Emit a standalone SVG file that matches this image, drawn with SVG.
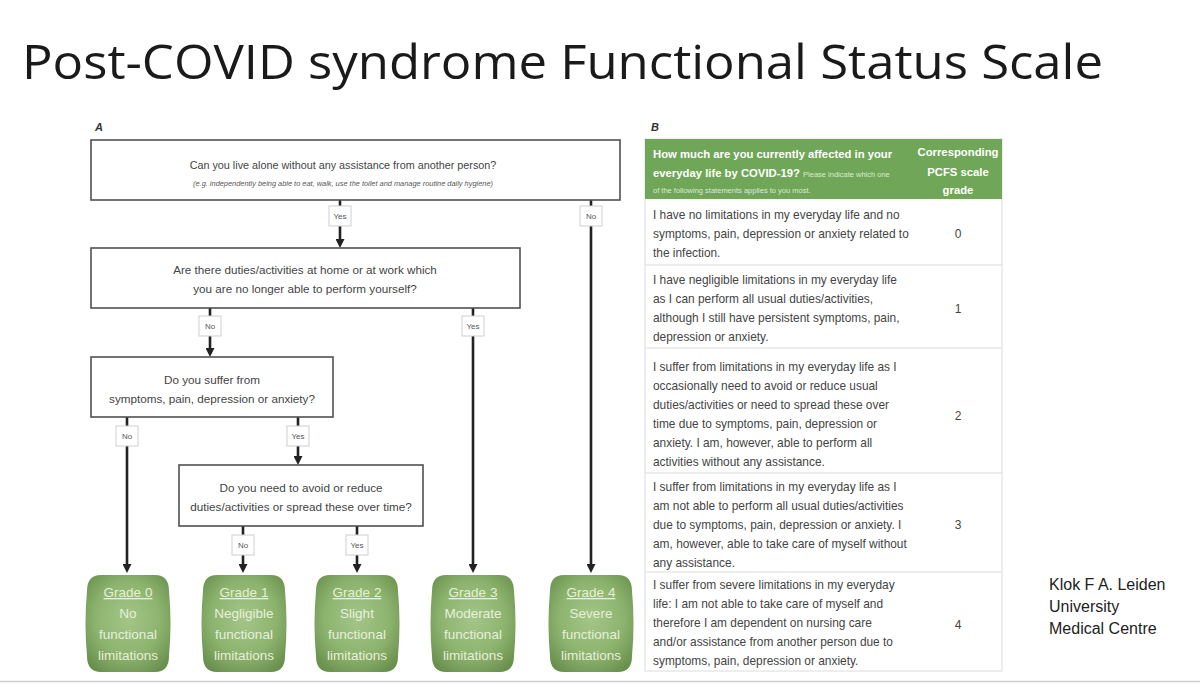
<svg xmlns="http://www.w3.org/2000/svg" width="1200" height="685" viewBox="0 0 1200 685">
<style>
text{font-family:"Liberation Sans",Arial,sans-serif}
.title{font-family:"Open Sans","Liberation Sans",sans-serif;font-size:48px;fill:#1a1a1a}
.box{fill:#fff;stroke:#505050;stroke-width:1.6}
.q{font-size:11.7px;fill:#444;text-anchor:middle}
.q1{font-size:10.8px}
.qi{font-size:7.4px;fill:#555;text-anchor:middle;font-style:italic}
.lab{fill:#fff;stroke:#cfcfcf;stroke-width:1}
.lt{font-size:8px;fill:#555;text-anchor:middle}
.con{stroke:#222;stroke-width:2.6;fill:none}
.g{fill:url(#gg)}
.gt{font-size:13.5px;fill:#e6efdb;text-anchor:middle}
.pl{font-size:11px;font-weight:bold;font-style:italic;fill:#333}
.hd{font-size:11.3px;font-weight:bold;fill:#fff}
.hs{font-size:7.5px;fill:#dcebcf;font-weight:normal}
.tt{font-size:11.9px;fill:#444}
.num{font-size:12px;fill:#444;text-anchor:middle}
.rl{stroke:#dcdcdc;stroke-width:1.2}
.auth{font-size:16px;fill:#222}
</style>
<defs>
<radialGradient id="gg" cx="0.5" cy="0.45" r="0.65">
<stop offset="0" stop-color="#a4c688"/>
<stop offset="0.6" stop-color="#8cb36e"/>
<stop offset="1" stop-color="#698f4c"/>
</radialGradient>
<marker id="ah" viewBox="0 0 10 10" refX="0" refY="5" markerWidth="9" markerHeight="9" markerUnits="userSpaceOnUse" orient="auto">
<path d="M0,0 L10,5 L0,10 Z" fill="#222"/>
</marker>
<path id="gshape" d="M-27,575 L27,575 Q41,575 41,591 Q44,623.5 41,656 Q41,672 27,672 L-27,672 Q-41,672 -41,656 Q-44,623.5 -41,591 Q-41,575 -27,575 Z"/>
</defs>
<rect width="1200" height="685" fill="#fff"/>
<text class="title" x="22" y="79" textLength="1081" lengthAdjust="spacingAndGlyphs">Post-COVID syndrome Functional Status Scale</text>
<line x1="0" y1="681.5" x2="1200" y2="681.5" stroke="#cfcfcf" stroke-width="1.5"/>

<text class="pl" x="95" y="131">A</text>
<text class="pl" x="651" y="131">B</text>

<g id="connectors">
<line class="con" x1="340" y1="200" x2="340" y2="239" marker-end="url(#ah)"/>
<line class="con" x1="591" y1="200" x2="591" y2="564" marker-end="url(#ah)"/>
<line class="con" x1="210" y1="308" x2="210" y2="348" marker-end="url(#ah)"/>
<line class="con" x1="473" y1="308" x2="473" y2="564" marker-end="url(#ah)"/>
<line class="con" x1="127" y1="417" x2="127" y2="564" marker-end="url(#ah)"/>
<line class="con" x1="298" y1="417" x2="298" y2="456" marker-end="url(#ah)"/>
<line class="con" x1="243" y1="526" x2="243" y2="564" marker-end="url(#ah)"/>
<line class="con" x1="357" y1="526" x2="357" y2="564" marker-end="url(#ah)"/>
<rect class="lab" x="329" y="206" width="22" height="20"/><text class="lt" x="340" y="219">Yes</text>
<rect class="lab" x="580" y="206" width="22" height="20"/><text class="lt" x="591" y="219">No</text>
<rect class="lab" x="199" y="316" width="22" height="20"/><text class="lt" x="210" y="329">No</text>
<rect class="lab" x="462" y="316" width="22" height="20"/><text class="lt" x="473" y="329">Yes</text>
<rect class="lab" x="116" y="426" width="22" height="20"/><text class="lt" x="127" y="439">No</text>
<rect class="lab" x="287" y="426" width="22" height="20"/><text class="lt" x="298" y="439">Yes</text>
<rect class="lab" x="232" y="535" width="22" height="20"/><text class="lt" x="243" y="548">No</text>
<rect class="lab" x="346" y="535" width="22" height="20"/><text class="lt" x="357" y="548">Yes</text>
</g>

<g id="q1">
<rect class="box" x="91" y="140" width="529" height="60"/>
<text class="q q1" x="343" y="169">Can you live alone without any assistance from another person?</text>
<text class="qi" x="343" y="186">(e.g. independently being able to eat, walk, use the toilet and manage routine daily hygiene)</text>
</g>
<g id="q2">
<rect class="box" x="91" y="248" width="429" height="60"/>
<text class="q" x="305" y="274">Are there duties/activities at home or at work which</text>
<text class="q" x="305" y="293">you are no longer able to perform yourself?</text>
</g>
<g id="q3">
<rect class="box" x="91" y="357" width="242" height="60"/>
<text class="q" x="212" y="384">Do you suffer from</text>
<text class="q" x="212" y="403">symptoms, pain, depression or anxiety?</text>
</g>
<g id="q4">
<rect class="box" x="179" y="465" width="244" height="61"/>
<text class="q" x="301" y="492">Do you need to avoid or reduce</text>
<text class="q" x="301" y="511">duties/activities or spread these over time?</text>
</g>

<g id="grade0">
<use href="#gshape" x="128" class="g"/>
<text class="gt" x="128" y="597" text-decoration="underline">Grade 0</text>
<text class="gt" x="128" y="618">No</text>
<text class="gt" x="128" y="639">functional</text>
<text class="gt" x="128" y="660">limitations</text>
</g>
<g id="grade1">
<use href="#gshape" x="244" class="g"/>
<text class="gt" x="244" y="597" text-decoration="underline">Grade 1</text>
<text class="gt" x="244" y="618">Negligible</text>
<text class="gt" x="244" y="639">functional</text>
<text class="gt" x="244" y="660">limitations</text>
</g>
<g id="grade2">
<use href="#gshape" x="357" class="g"/>
<text class="gt" x="357" y="597" text-decoration="underline">Grade 2</text>
<text class="gt" x="357" y="618">Slight</text>
<text class="gt" x="357" y="639">functional</text>
<text class="gt" x="357" y="660">limitations</text>
</g>
<g id="grade3">
<use href="#gshape" x="473" class="g"/>
<text class="gt" x="473" y="597" text-decoration="underline">Grade 3</text>
<text class="gt" x="473" y="618">Moderate</text>
<text class="gt" x="473" y="639">functional</text>
<text class="gt" x="473" y="660">limitations</text>
</g>
<g id="grade4">
<use href="#gshape" x="591" class="g"/>
<text class="gt" x="591" y="597" text-decoration="underline">Grade 4</text>
<text class="gt" x="591" y="618">Severe</text>
<text class="gt" x="591" y="639">functional</text>
<text class="gt" x="591" y="660">limitations</text>
</g>

<g id="table">
<rect x="645" y="139" width="357" height="532" fill="#fff" stroke="#e2e2e2" stroke-width="1.2"/>
<rect x="645" y="139" width="357" height="60" fill="#6fa657"/>
<text class="hd" x="653" y="158">How much are you currently affected in your</text>
<text class="hd" x="653" y="177">everyday life by COVID-19? <tspan class="hs">Please indicate which one</tspan></text>
<text class="hs" x="653" y="193">of the following statements applies to you most.</text>
<text class="hd" x="958" y="156" text-anchor="middle">Corresponding</text>
<text class="hd" x="958" y="176" text-anchor="middle">PCFS scale</text>
<text class="hd" x="958" y="194" text-anchor="middle">grade</text>
<line class="rl" x1="645" y1="265" x2="1002" y2="265"/>
<line class="rl" x1="645" y1="348" x2="1002" y2="348"/>
<line class="rl" x1="645" y1="473" x2="1002" y2="473"/>
<line class="rl" x1="645" y1="572" x2="1002" y2="572"/>
<text class="tt" x="653" y="219">I have no limitations in my everyday life and no</text>
<text class="tt" x="653" y="238">symptoms, pain, depression or anxiety related to</text>
<text class="tt" x="653" y="257">the infection.</text>
<text class="num" x="958" y="238">0</text>
<text class="tt" x="653" y="284">I have negligible limitations in my everyday life</text>
<text class="tt" x="653" y="303">as I can perform all usual duties/activities,</text>
<text class="tt" x="653" y="322">although I still have persistent symptoms, pain,</text>
<text class="tt" x="653" y="341">depression or anxiety.</text>
<text class="num" x="958" y="313">1</text>
<text class="tt" x="653" y="371">I suffer from limitations in my everyday life as I</text>
<text class="tt" x="653" y="390">occasionally need to avoid or reduce usual</text>
<text class="tt" x="653" y="409">duties/activities or need to spread these over</text>
<text class="tt" x="653" y="428">time due to symptoms, pain, depression or</text>
<text class="tt" x="653" y="447">anxiety. I am, however, able to perform all</text>
<text class="tt" x="653" y="466">activities without any assistance.</text>
<text class="num" x="958" y="420">2</text>
<text class="tt" x="653" y="491">I suffer from limitations in my everyday life as I</text>
<text class="tt" x="653" y="510">am not able to perform all usual duties/activities</text>
<text class="tt" x="653" y="529">due to symptoms, pain, depression or anxiety. I</text>
<text class="tt" x="653" y="548">am, however, able to take care of myself without</text>
<text class="tt" x="653" y="567">any assistance.</text>
<text class="num" x="958" y="529">3</text>
<text class="tt" x="653" y="589">I suffer from severe limitations in my everyday</text>
<text class="tt" x="653" y="608">life: I am not able to take care of myself and</text>
<text class="tt" x="653" y="627">therefore I am dependent on nursing care</text>
<text class="tt" x="653" y="646">and/or assistance from another person due to</text>
<text class="tt" x="653" y="665">symptoms, pain, depression or anxiety.</text>
<text class="num" x="958" y="629">4</text>
</g>

<g id="author">
<text class="auth" x="1049" y="590">Klok F A. Leiden</text>
<text class="auth" x="1049" y="612">University</text>
<text class="auth" x="1049" y="634">Medical Centre</text>
</g>
</svg>
